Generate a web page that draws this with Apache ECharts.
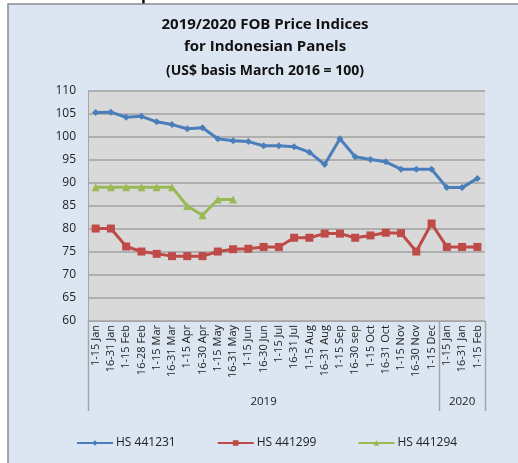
<!DOCTYPE html>
<html><head><meta charset="utf-8">
<script src="https://cdn.jsdelivr.net/npm/echarts@6/dist/echarts.min.js"></script>
<style>html,body{margin:0;padding:0;background:#fff;}#c{width:518px;height:463px;}</style>
</head><body><div id="c"></div>
<script>
const categories = ['1-15 Jan','16-31 Jan','1-15 Feb','16-28 Feb','1-15 Mar','16-31 Mar','1-15 Apr','16-30 Apr','1-15 May','16-31 May','1-15 Jun','16-30 Jun','1-15 Jul','16-31 Jul','1-15 Aug','16-31 Aug','1-15 Sep','16-30 sep','1-15 Oct','16-31 Oct','1-15 Nov','16-30 Nov','1-15 Dec','1-15 Jan','16-31 Jan','1-15 Feb'];
const years = ['2019','2020'];
const yearStart = [0, 23];
const hs441231 = [105.3,105.4,104.3,104.5,103.3,102.7,101.8,102.0,99.6,99.2,99.0,98.1,98.1,97.9,96.7,94.0,99.6,95.7,95.1,94.6,93.0,93.0,93.0,89.0,89.0,91.0];
const hs441299 = [80.1,80.1,76.2,75.1,74.6,74.1,74.1,74.1,75.1,75.6,75.7,76.1,76.1,78.1,78.1,79.0,79.0,78.1,78.6,79.2,79.1,75.1,81.2,76.1,76.1,76.1];
const hs441294 = [89.1,89.1,89.1,89.1,89.1,89.1,85.0,83.0,86.4,86.4,null,null,null,null,null,null,null,null,null,null,null,null,null,null,null,null];
const titleLines = ['2019/2020 FOB Price Indices','for Indonesian Panels','(US$ basis March 2016 = 100)'];

const FONT = '"Open Sans", "Liberation Sans", sans-serif';
const chart = echarts.init(document.getElementById('c'));
function ser(name, data, color, symbol, size){
  return {name, type:'line', data, symbol, symbolSize:size, showSymbol:true,
    lineStyle:{color, width:3}, itemStyle:{color}, connectNulls:false, animation:false};
}
chart.setOption({
  animation:false,
  backgroundColor:'#fff',
  grid:{left:88, right:33, top:91, bottom:142},
  xAxis:{type:'category', data:categories, boundaryGap:true,
    axisLine:{lineStyle:{color:'#A6A6A6', width:1}}, axisTick:{show:false},
    axisLabel:{rotate:90, interval:0, fontSize:11, color:'#222', fontFamily:FONT, margin:4}},
  yAxis:{type:'value', min:60, max:110, interval:5,
    axisLine:{show:true, lineStyle:{color:'#A6A6A6'}}, axisTick:{show:false},
    splitLine:{lineStyle:{color:'#A0A0A0', width:1.5}},
    axisLabel:{fontSize:12, color:'#222', fontFamily:FONT, margin:12}},
  legend:{bottom:9, left:71, itemGap:41, itemWidth:36, itemHeight:7,
    textStyle:{fontSize:12, color:'#222', fontFamily:FONT, padding:[0,0,0,-2]},
    data:['HS 441231','HS 441299','HS 441294']},
  series:[
    ser('HS 441231', hs441231, '#4A7EBB', 'diamond', 7),
    ser('HS 441299', hs441299, '#BE4B48', 'rect', 8),
    ser('HS 441294', hs441294, '#98B954', 'triangle', 8)
  ]
});

const gfx = [];
gfx.push({type:'rect', shape:{x:8, y:4, width:520, height:470}, style:{fill:'#DCE6F2', stroke:'#8C8C8C', lineWidth:1.5}, z:-10});
gfx.push({type:'text', style:{text:'p', x:141, y:-13, fill:'#000', font:'bold 16px '+FONT}, z:-11});
const tl = chart.convertToPixel({gridIndex:0}, [0, 110]);
const cw = chart.getModel().getComponent('xAxis',0).axis.getBandWidth();
const x0 = tl[0] - cw/2;
const yTop = tl[1];
const yBot = chart.convertToPixel({yAxisIndex:0}, 60);
const xEnd = x0 + cw*categories.length;
gfx.push({type:'rect', shape:{x:x0, y:yTop, width:xEnd-x0, height:yBot-yTop}, style:{fill:'#D9D9D9'}, z:-5});
const bounds = yearStart.concat([categories.length]);
bounds.forEach(i => {
  const x = Math.round(x0 + cw*i) + 0.5;
  gfx.push({type:'line', shape:{x1:x, y1:yBot, x2:x, y2:yBot+90}, style:{stroke:'#A6A6A6', lineWidth:1.5}});
});
years.forEach((y, k) => {
  const mid = x0 + cw*(bounds[k] + bounds[k+1])/2;
  gfx.push({type:'text', style:{text:y, x:mid, y:yBot+81, align:'center', verticalAlign:'middle', fill:'#222', font:'11.5px '+FONT}});
});
const ty = [25, 47, 71];
const tsz = [15, 15, 14];
titleLines.forEach((t, k) => {
  gfx.push({type:'text', style:{text:t, x:265, y:ty[k], align:'center', verticalAlign:'middle', fill:'#111', font:'bold '+tsz[k]+'px '+FONT}});
});
chart.setOption({graphic:gfx});
</script></body></html>
